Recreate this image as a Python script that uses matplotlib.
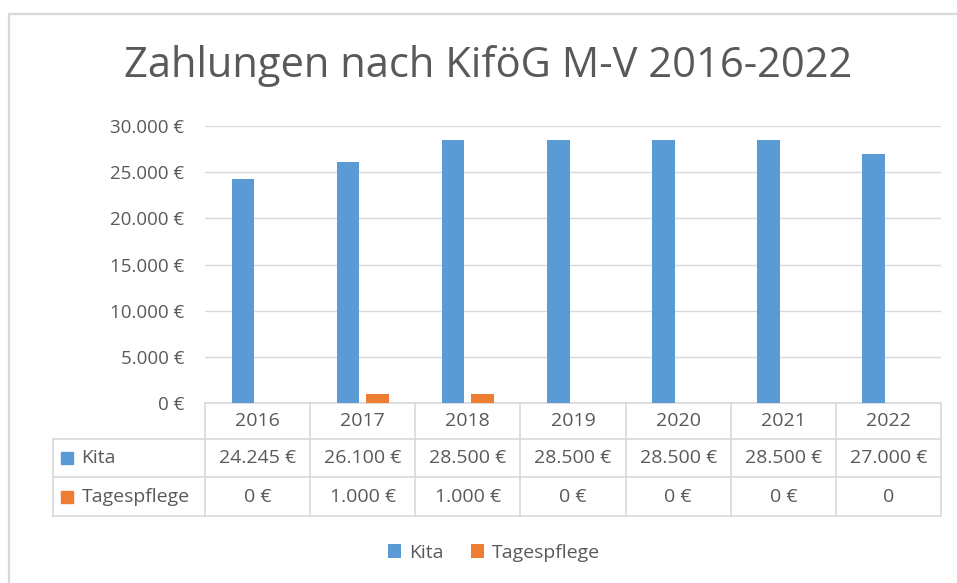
import numpy as np
import matplotlib
matplotlib.use("Agg")
import matplotlib.pyplot as plt
from matplotlib.lines import Line2D

# data
years = ["2016", "2017", "2018", "2019", "2020", "2021", "2022"]
kita = [24245, 26100, 28500, 28500, 28500, 28500, 27000]
tagespflege = [0, 1000, 1000, 0, 0, 0, 0]
kita_txt = ["24.245 €", "26.100 €", "28.500 €", "28.500 €", "28.500 €", "28.500 €", "27.000 €"]
tages_txt = ["0 €", "1.000 €", "1.000 €", "0 €", "0 €", "0 €", "0"]
yticks = [0, 5000, 10000, 15000, 20000, 25000, 30000]
ytick_txt = ["0 €", "5.000 €", "10.000 €", "15.000 €", "20.000 €", "25.000 €", "30.000 €"]

BLUE = "#5B9BD5"
ORANGE = "#ED7D31"
GRAY = "#595959"
LINE = "#D9D9D9"

plt.rcParams["font.family"] = ["Open Sans", "DejaVu Sans"]

W, H = 957, 583
fig = plt.figure(figsize=(W / 100, H / 100), dpi=100)

def fx(px):
    return px / W

def fy(py):
    return 1 - py / H

# chart frame (left + top edge)
fig.add_artist(Line2D([fx(9), fx(9)], [fy(14), 0], color=LINE, lw=1.6))
fig.add_artist(Line2D([fx(9), 1], [fy(14), fy(14)], color=LINE, lw=1.6))

ax = fig.add_axes([fx(205), fy(403), fx(941) - fx(205), fy(126) - fy(403)])
x = np.arange(len(years))
bw = 0.214
off = 0.14
b1 = ax.bar(x - off, kita, bw, color=BLUE, label="Kita", zorder=3)
b2 = ax.bar(x + off, tagespflege, bw, color=ORANGE, label="Tagespflege", zorder=3)

ax.set_xlim(-0.5, len(years) - 0.5)
ax.set_ylim(0, 30000)
ax.set_yticks(yticks)
ax.set_yticklabels(ytick_txt, fontsize=13.5, color=GRAY)
ax.tick_params(axis="y", length=0, pad=15)
ax.set_xticks([])
for s in ax.spines.values():
    s.set_visible(False)
ax.grid(axis="y", color=LINE, lw=1, zorder=0)

# data table below the plot
tr = ax.get_xaxis_transform()
h = fy(126) - fy(403)
rows = [0, -(439 - 403) / (H * h), -(477 - 403) / (H * h), -(516 - 403) / (H * h)]
left = -0.5 - (205 - 53) / ((941 - 205) / len(years))

tk = dict(transform=tr, color=LINE, lw=1.2, clip_on=False)
ax.plot([-0.5, len(years) - 0.5], [rows[0], rows[0]], **tk)
for r in rows[1:]:
    ax.plot([left, len(years) - 0.5], [r, r], **tk)
for b in np.arange(-0.5, len(years), 1.0):
    ax.plot([b, b], [rows[0], rows[3]], **tk)
ax.plot([left, left], [rows[1], rows[3]], **tk)

fs = 14
for i in range(len(years)):
    ax.text(x[i], (rows[0] + rows[1]) / 2, years[i], transform=tr, ha="center", va="center",
            fontsize=fs, color=GRAY)
    ax.text(x[i], (rows[1] + rows[2]) / 2, kita_txt[i], transform=tr, ha="center", va="center",
            fontsize=fs, color=GRAY)
    ax.text(x[i], (rows[2] + rows[3]) / 2, tages_txt[i], transform=tr, ha="center", va="center",
            fontsize=fs, color=GRAY)

# series keys in table
for (lbl, col, r0, r1) in [("Kita", BLUE, rows[1], rows[2]), ("Tagespflege", ORANGE, rows[2], rows[3])]:
    yc = (r0 + r1) / 2
    ax.plot([left + 0.135], [yc], marker="s", ms=9, color=col, transform=tr, clip_on=False)
    ax.text(left + 0.27, yc, lbl, transform=tr, ha="left", va="center", fontsize=fs, color=GRAY)

fig.text(0.51, fy(66), "Zahlungen nach KiföG M-V 2016-2022", ha="center", va="center",
         fontsize=30, color=GRAY)

leg = fig.legend(handles=[b1, b2], loc="center", bbox_to_anchor=(fx(494), fy(553)), ncol=2,
                 frameon=False, fontsize=14, handlelength=0.7, handleheight=0.7,
                 handletextpad=0.4, columnspacing=1.4)
for t in leg.get_texts():
    t.set_color(GRAY)

fig.savefig("out.png", dpi=100)
